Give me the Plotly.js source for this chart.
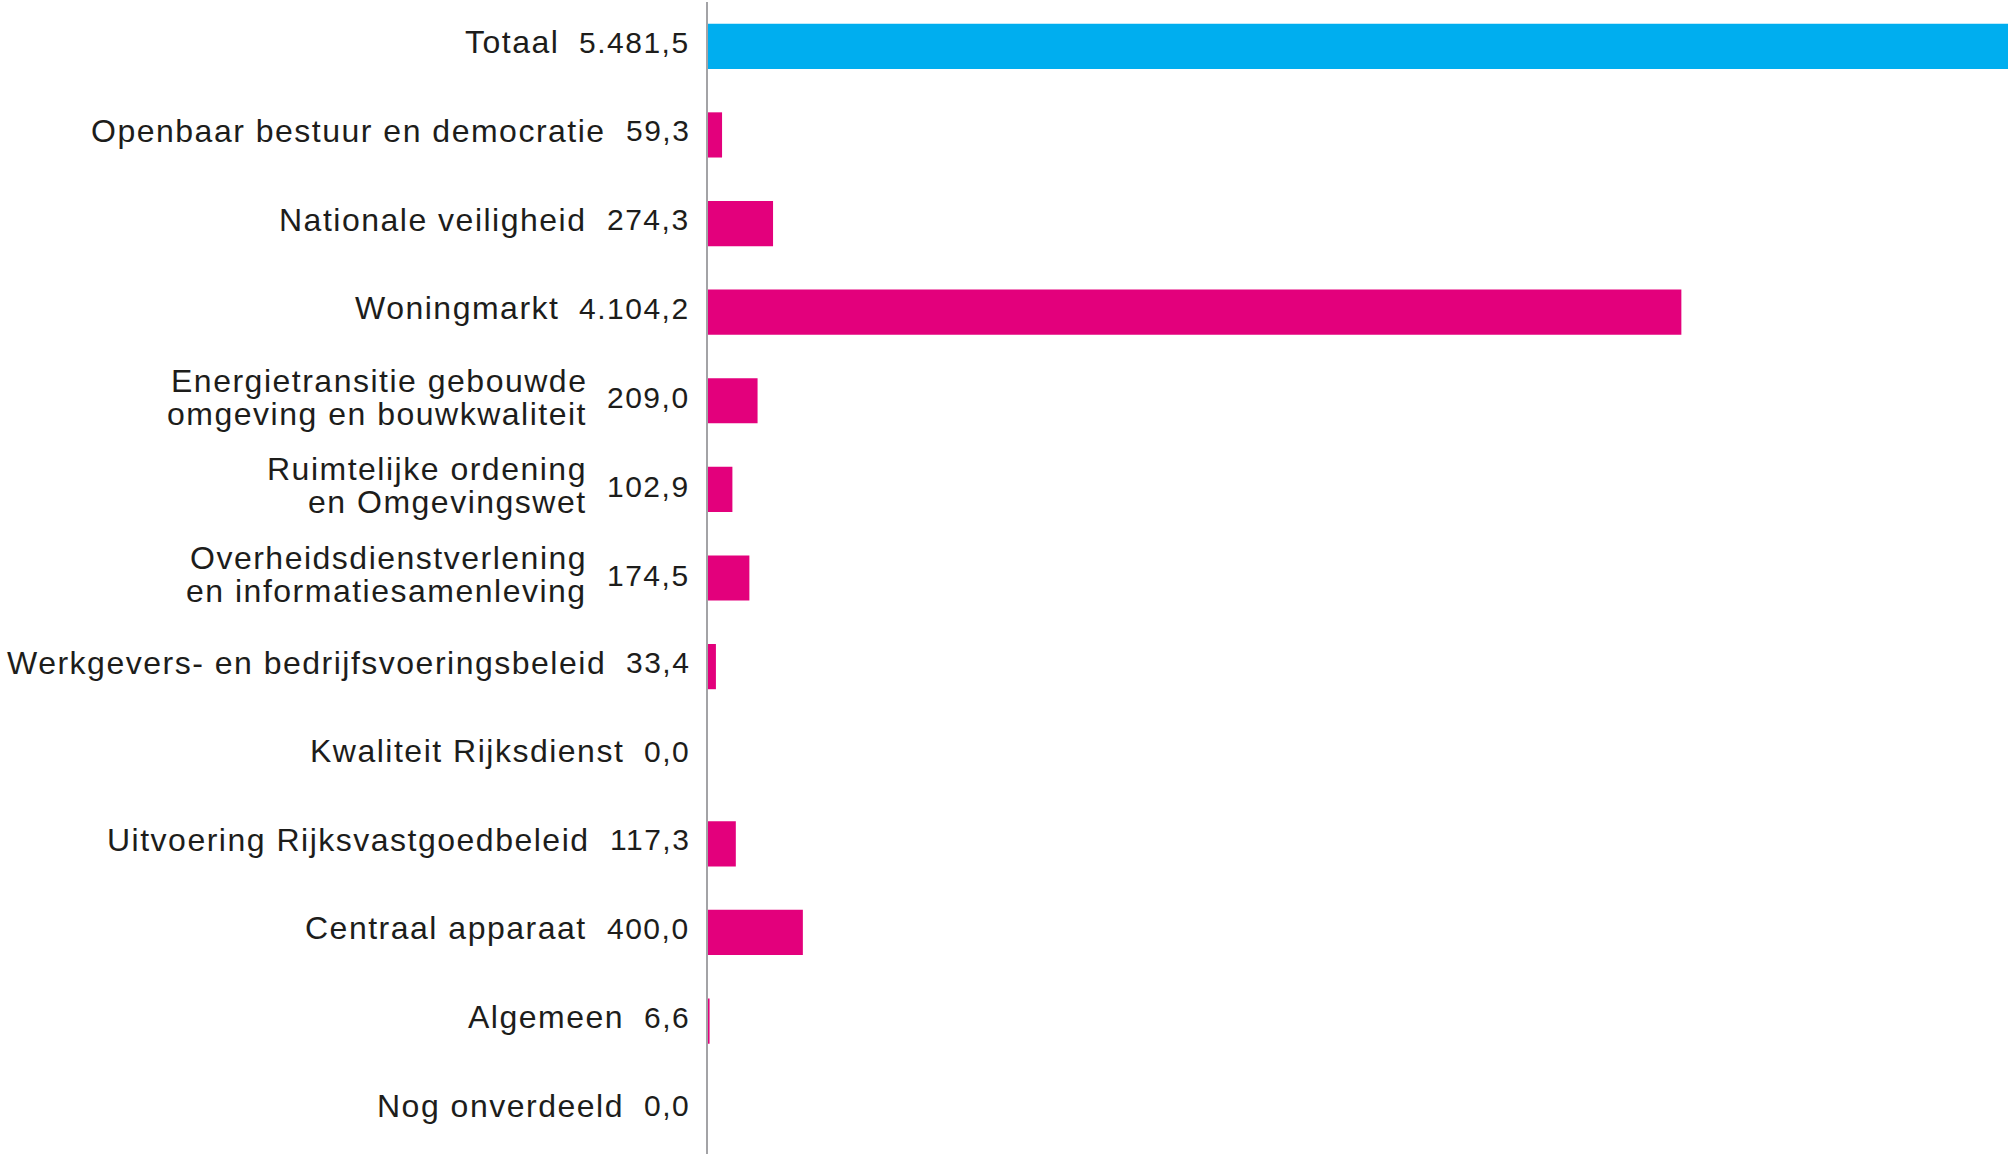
<!DOCTYPE html>
<html>
<head>
<meta charset="utf-8">
<script src="https://cdn.plot.ly/plotly-3.0.1.min.js"></script>
<style>
html, body { margin: 0; padding: 0; background: #ffffff; }
svg text { letter-spacing: 1.5px; }
</style>
</head>
<body>
<div id="chart" style="width:2008px;height:1156px;"></div>
<script>
// ---- data ----
const categories = [
  "Totaal",
  "Openbaar bestuur en democratie",
  "Nationale veiligheid",
  "Woningmarkt",
  "Energietransitie gebouwde omgeving en bouwkwaliteit",
  "Ruimtelijke ordening en Omgevingswet",
  "Overheidsdienstverlening en informatiesamenleving",
  "Werkgevers- en bedrijfsvoeringsbeleid",
  "Kwaliteit Rijksdienst",
  "Uitvoering Rijksvastgoedbeleid",
  "Centraal apparaat",
  "Algemeen",
  "Nog onverdeeld"
];
const labelLines = [
  ["Totaal"],
  ["Openbaar bestuur en democratie"],
  ["Nationale veiligheid"],
  ["Woningmarkt"],
  ["Energietransitie gebouwde", "omgeving en bouwkwaliteit"],
  ["Ruimtelijke ordening", "en Omgevingswet"],
  ["Overheidsdienstverlening", "en informatiesamenleving"],
  ["Werkgevers- en bedrijfsvoeringsbeleid"],
  ["Kwaliteit Rijksdienst"],
  ["Uitvoering Rijksvastgoedbeleid"],
  ["Centraal apparaat"],
  ["Algemeen"],
  ["Nog onverdeeld"]
];
const values = [5481.5, 59.3, 274.3, 4104.2, 209.0, 102.9, 174.5, 33.4, 0.0, 117.3, 400.0, 6.6, 0.0];
const valueLabels = ["5.481,5", "59,3", "274,3", "4.104,2", "209,0", "102,9", "174,5", "33,4", "0,0", "117,3", "400,0", "6,6", "0,0"];
const totalColor = "#00AEEF";
const itemColor = "#E3007C";
const barColors = categories.map((c, i) => i === 0 ? totalColor : itemColor);

// ---- style ----
const FONT_SIZE = 32;
const VALUE_FONT_SIZE = 30;
const LETTER_SPACING = 1.5;
const FAMILY = '"Liberation Sans", Arial, Helvetica, sans-serif';
const TEXT_COLOR = "#1d1d1b";
const VALUE_OFFSET = 16;   // gap between axis and value text
const LABEL_GAP = 20;      // gap between label and value

const ctx = document.createElement("canvas").getContext("2d");
ctx.font = VALUE_FONT_SIZE + "px " + FAMILY;
function valueWidth(t) { return ctx.measureText(t).width + t.length * LETTER_SPACING; }

const font = { family: FAMILY, size: FONT_SIZE, color: TEXT_COLOR };
const valueFont = { family: FAMILY, size: VALUE_FONT_SIZE, color: TEXT_COLOR };
const annotations = [];
categories.forEach((cat, i) => {
  const lines = labelLines[i];
  const single = lines.length === 1;
  annotations.push({
    x: 0, y: cat, xref: "x", yref: "y",
    text: valueLabels[i], showarrow: false,
    xanchor: "right", yanchor: "middle",
    xshift: -VALUE_OFFSET, yshift: single ? 4 : 3,
    font: valueFont
  });
  const shift = -(VALUE_OFFSET + valueWidth(valueLabels[i]) + LABEL_GAP);
  lines.forEach((ln, j) => {
    annotations.push({
      x: 0, y: cat, xref: "x", yref: "y",
      text: ln, showarrow: false,
      xanchor: "right", yanchor: "middle",
      xshift: shift,
      yshift: single ? 4 : (j === 0 ? 20 : -13),
      font: font
    });
  });
});

const trace = {
  type: "bar",
  orientation: "h",
  x: values,
  y: categories,
  marker: { color: barColors },
  hoverinfo: "none"
};

const layout = {
  width: 2008,
  height: 1156,
  margin: { l: 708, r: 0, t: 2, b: 2, pad: 0 },
  paper_bgcolor: "#ffffff",
  plot_bgcolor: "#ffffff",
  showlegend: false,
  bargap: 0.49,
  xaxis: {
    range: [0, 5481.5],
    visible: false,
    fixedrange: true
  },
  yaxis: {
    type: "category",
    categoryorder: "array",
    categoryarray: categories,
    autorange: "reversed",
    showline: true,
    linecolor: "#a3a3a6",
    linewidth: 2,
    showticklabels: false,
    ticks: "",
    showgrid: false,
    zeroline: false,
    fixedrange: true
  },
  annotations: annotations
};

Plotly.newPlot("chart", [trace], layout, { displayModeBar: false, staticPlot: true });
</script>
</body>
</html>
